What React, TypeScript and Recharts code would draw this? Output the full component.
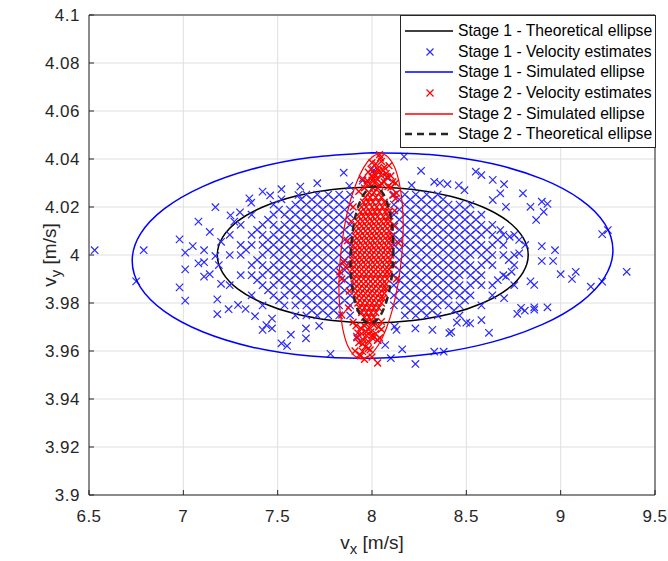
import React from "react";
import { ScatterChart, Scatter, XAxis, YAxis, CartesianGrid, Legend } from "recharts";

type Pt = [number, number];

const xTicks = [6.5, 7, 7.5, 8, 8.5, 9, 9.5];
const yTicks = [3.9, 3.92, 3.94, 3.96, 3.98, 4, 4.02, 4.04, 4.06, 4.08, 4.1];

// ellipse outlines
const stage1Theoretical: Pt[] = [
  [8.004, 4.0283], [7.791, 4.0273], [7.592, 4.0245], [7.421, 4.02], [7.29, 4.0142], [7.208, 4.0073],
  [7.18, 4.0], [7.208, 3.9927], [7.29, 3.9858], [7.421, 3.98], [7.592, 3.9755], [7.791, 3.9727],
  [8.004, 3.9717], [8.217, 3.9727], [8.416, 3.9755], [8.587, 3.98], [8.718, 3.9858], [8.8, 3.9927],
  [8.828, 4.0], [8.8, 4.0073], [8.718, 4.0142], [8.587, 4.02], [8.416, 4.0245], [8.217, 4.0273], [8.004, 4.0283],
];

const stage1Simulated: Pt[] = [
  [8.003, 4.0426], [7.673, 4.0406], [7.366, 4.0358], [7.102, 4.0285], [6.9, 4.0193], [6.772, 4.0087],
  [6.729, 3.9976], [6.772, 3.9866], [6.9, 3.9765], [7.102, 3.968], [7.366, 3.9616], [7.673, 3.9579],
  [8.003, 3.957], [8.333, 3.959], [8.64, 3.9638], [8.904, 3.9711], [9.106, 3.9803], [9.234, 3.9909],
  [9.277, 4.002], [9.234, 4.013], [9.106, 4.0231], [8.904, 4.0316], [8.64, 4.038], [8.333, 4.0417], [8.003, 4.0426],
];

const stage2Simulated: Pt[] = [
  [8.158, 3.9995], [8.165, 4.0106], [8.161, 4.0209], [8.145, 4.0298], [8.12, 4.0366], [8.085, 4.0408],
  [8.045, 4.0423], [8.001, 4.0408], [7.957, 4.0366], [7.916, 4.0298], [7.879, 4.0209], [7.851, 4.0106],
  [7.833, 3.9995], [7.825, 3.9884], [7.829, 3.9781], [7.845, 3.9692], [7.87, 3.9624], [7.905, 3.9582],
  [7.945, 3.9567], [7.989, 3.9582], [8.033, 3.9624], [8.075, 3.9692], [8.111, 3.9781], [8.139, 3.9884], [8.158, 3.9995],
];

const stage2Theoretical: Pt[] = [
  [8.113, 4.0], [8.112, 4.0074], [8.103, 4.0143], [8.087, 4.0202], [8.065, 4.0247], [8.039, 4.0275],
  [8.01, 4.0285], [7.981, 4.0275], [7.952, 4.0247], [7.927, 4.0202], [7.907, 4.0143], [7.894, 4.0074],
  [7.887, 4.0], [7.888, 3.9926], [7.897, 3.9857], [7.913, 3.9798], [7.935, 3.9753], [7.961, 3.9725],
  [7.99, 3.9715], [8.019, 3.9725], [8.048, 3.9753], [8.073, 3.9798], [8.093, 3.9857], [8.107, 3.9926], [8.113, 4.0],
];

// stage 1 estimates outside the dense core
const stage1Scattered: Pt[] = [
  [6.53, 4.002], [6.79, 4.002], [6.75, 3.989], [6.98, 4.0065], [7.01, 4.001], [7.05, 4.0037], [7.01, 3.994],
  [6.98, 3.9865], [7.01, 3.981], [7.08, 4.0139], [7.14, 4.0096], [7.17, 4.0199], [7.11, 4.002], [7.08, 3.9965],
  [7.11, 3.997], [7.11, 3.991], [7.14, 3.992], [7.18, 3.9754], [7.24, 3.9774], [7.18, 3.9815], [7.2, 3.988],
  [7.17, 3.9996], [7.2, 4.0055], [7.27, 4.0139], [7.36, 4.0218], [7.42, 4.0264], [7.52, 4.0274], [7.52, 4.0232],
  [7.61, 4.025], [7.71, 4.0299], [7.85, 4.0343], [7.88, 4.0288], [8.01, 4.0354],
  [7.42, 3.9688], [7.44, 3.9708], [7.47, 3.9694], [7.52, 3.9632], [7.55, 3.9621], [7.65, 3.9653], [7.65, 3.9694],
  [7.78, 3.9588],
  [8.17, 4.041], [8.26, 4.0351], [8.36, 4.03], [8.4, 4.0295], [8.46, 4.029], [8.49, 4.027], [8.55, 4.0347],
  [8.58, 4.0333], [8.64, 4.0313], [8.7, 4.0295], [8.68, 4.0257], [8.64, 4.0229], [8.71, 4.0201], [8.8, 4.0257],
  [8.84, 4.0201], [8.87, 4.0146], [8.91, 4.018], [8.9, 4.0222], [8.93, 4.0213], [8.68, 4.0104],
  [8.73, 4.0076], [8.78, 4.0063], [8.78, 4.0007],
  [9.22, 4.0087], [9.25, 4.0104], [8.9, 4.0037], [8.97, 4.002], [8.9, 3.9975], [8.96, 3.9975], [9.0, 3.992],
  [9.08, 3.993], [9.06, 3.99], [9.35, 3.993], [9.16, 3.9868], [9.22, 3.9889], [8.84, 3.989], [8.86, 3.9875],
  [8.71, 3.991], [8.74, 3.993], [8.7, 3.982],
  [8.79, 3.978], [8.81, 3.9768], [8.86, 3.9772], [8.86, 3.9782], [8.93, 3.9782], [8.77, 3.9755],
  [8.42, 3.968], [8.52, 3.9715], [8.58, 3.9729], [8.62, 3.9676], [8.45, 3.9718], [8.38, 3.9597], [8.5, 3.9718],
  [8.41, 3.9674], [8.32, 3.9688], [8.23, 3.9694], [8.33, 3.9597], [8.23, 3.9546], [8.16, 3.9607], [8.1, 3.957],
  [8.07, 3.9625], [8.13, 3.9688],
  [7.62, 4.0285], [7.95, 4.031], [8.08, 4.0322], [8.21, 4.0291], [8.33, 4.0305], [7.72, 3.9705], [7.92, 3.966],
  [8.03, 3.9645], [8.12, 3.9702], [7.57, 3.9668], [7.3, 4.0178], [7.25, 4.0165], [7.33, 3.9775], [7.38, 3.9745],
  [7.29, 3.9792], [7.47, 3.9735], [7.35, 4.0236], [7.46, 4.0248],
];

// stage 1 estimates in the dense core: they sit on a regular grid (row vy, columns vx)
const stage1Grid: [number, number[]][] = [
  [4.0252, [7.652, 7.71, 7.768, 7.826, 7.884, 8.116, 8.174, 8.232, 8.29, 8.348]],
  [4.0231, [7.623, 7.681, 7.739, 7.797, 7.855, 8.145, 8.203, 8.261, 8.319, 8.377]],
  [4.021, [7.478, 7.594, 7.652, 7.71, 7.768, 7.826, 7.884, 8.116, 8.174, 8.232, 8.29, 8.348, 8.406, 8.464, 8.522]],
  [4.0189, [7.507, 7.565, 7.623, 7.681, 7.739, 7.797, 7.855, 8.145, 8.203, 8.261, 8.319, 8.377, 8.435, 8.493]],
  [4.0168, [7.362, 7.478, 7.536, 7.594, 7.652, 7.71, 7.768, 7.826, 7.884, 8.116, 8.174, 8.232, 8.29, 8.348, 8.406, 8.464, 8.522, 8.58]],
  [4.0147, [7.449, 7.565, 7.623, 7.681, 7.739, 7.797, 7.855, 8.145, 8.203, 8.261, 8.319, 8.377, 8.435, 8.493, 8.551]],
  [4.0126, [7.304, 7.42, 7.478, 7.536, 7.594, 7.652, 7.71, 7.768, 7.826, 7.884, 8.116, 8.174, 8.232, 8.29, 8.348, 8.406, 8.464, 8.522, 8.58, 8.638]],
  [4.0105, [7.391, 7.507, 7.565, 7.623, 7.681, 7.739, 7.797, 7.855, 8.145, 8.203, 8.261, 8.319, 8.377, 8.435, 8.493, 8.551, 8.609]],
  [4.0084, [7.246, 7.362, 7.42, 7.478, 7.536, 7.594, 7.652, 7.71, 7.768, 7.826, 7.884, 8.116, 8.174, 8.232, 8.29, 8.348, 8.406, 8.464, 8.522, 8.58, 8.638, 8.696, 8.754]],
  [4.0063, [7.449, 7.507, 7.565, 7.623, 7.681, 7.739, 7.797, 7.855, 8.145, 8.203, 8.261, 8.319, 8.377, 8.435, 8.493, 8.551, 8.667]],
  [4.0042, [7.304, 7.362, 7.42, 7.478, 7.536, 7.594, 7.652, 7.71, 7.768, 7.826, 7.884, 8.116, 8.174, 8.232, 8.29, 8.348, 8.406, 8.464, 8.522, 8.58, 8.638, 8.696, 8.812]],
  [4.0021, [7.333, 7.449, 7.507, 7.565, 7.623, 7.681, 7.739, 7.797, 7.855, 8.145, 8.203, 8.261, 8.319, 8.377, 8.435, 8.493, 8.551, 8.609]],
  [4.0, [7.246, 7.304, 7.42, 7.478, 7.536, 7.594, 7.652, 7.71, 7.768, 7.826, 7.884, 8.116, 8.174, 8.232, 8.29, 8.348, 8.406, 8.464, 8.522, 8.58, 8.638, 8.696, 8.754]],
  [3.9979, [7.391, 7.507, 7.565, 7.623, 7.681, 7.739, 7.797, 7.855, 8.145, 8.203, 8.261, 8.319, 8.377, 8.435, 8.493, 8.609, 8.725]],
  [3.9958, [7.188, 7.362, 7.42, 7.478, 7.536, 7.594, 7.652, 7.71, 7.768, 7.826, 7.884, 8.116, 8.174, 8.232, 8.29, 8.348, 8.406, 8.464, 8.522, 8.58, 8.638, 8.754]],
  [3.9937, [7.449, 7.507, 7.565, 7.623, 7.681, 7.739, 7.797, 7.855, 8.145, 8.203, 8.261, 8.319, 8.377, 8.435, 8.493, 8.551]],
  [3.9916, [7.304, 7.362, 7.42, 7.478, 7.536, 7.594, 7.652, 7.71, 7.768, 7.826, 7.884, 8.116, 8.174, 8.232, 8.29, 8.348, 8.406, 8.464, 8.522, 8.58, 8.696]],
  [3.9895, [7.391, 7.507, 7.565, 7.623, 7.681, 7.739, 7.797, 7.855, 8.145, 8.203, 8.261, 8.319, 8.377, 8.435, 8.551, 8.667]],
  [3.9874, [7.246, 7.42, 7.478, 7.536, 7.594, 7.652, 7.71, 7.768, 7.826, 7.884, 8.116, 8.174, 8.232, 8.29, 8.348, 8.406, 8.464, 8.522, 8.58, 8.638, 8.754]],
  [3.9853, [7.449, 7.565, 7.623, 7.681, 7.739, 7.797, 7.855, 8.145, 8.203, 8.261, 8.319, 8.377, 8.435, 8.493]],
  [3.9832, [7.362, 7.478, 7.536, 7.594, 7.652, 7.71, 7.768, 7.826, 7.884, 8.116, 8.174, 8.232, 8.29, 8.348, 8.406, 8.464, 8.522, 8.638]],
  [3.9811, [7.507, 7.623, 7.681, 7.739, 7.797, 7.855, 8.145, 8.203, 8.261, 8.319, 8.377, 8.493]],
  [3.979, [7.42, 7.536, 7.594, 7.652, 7.71, 7.768, 7.826, 7.884, 8.116, 8.174, 8.232, 8.29, 8.348, 8.406, 8.464, 8.58]],
  [3.9769, [7.681, 7.739, 7.797, 8.203, 8.261, 8.319, 8.435]],
  [3.9748, [7.594, 7.652, 7.71, 7.768, 7.826, 7.884, 8.174, 8.232, 8.29, 8.348, 8.464]],
];

// stage 2 estimates, dense core by rows (row vy, columns vx)
const stage2Rows: [number, number[]][] = [
  [4.028, [8.005, 8.03]],
  [4.026, [7.985, 8.01, 8.04]],
  [4.024, [7.965, 7.99, 8.02, 8.05]],
  [4.022, [7.955, 7.98, 8.005, 8.035, 8.065]],
  [4.02, [7.945, 7.97, 8.0, 8.025, 8.055, 8.08]],
  [4.018, [7.94, 7.965, 7.99, 8.015, 8.04, 8.07, 8.09]],
  [4.016, [7.93, 7.955, 7.98, 8.005, 8.03, 8.06, 8.085]],
  [4.014, [7.925, 7.95, 7.975, 8.0, 8.025, 8.05, 8.075, 8.095]],
  [4.012, [7.92, 7.945, 7.97, 7.995, 8.02, 8.045, 8.07, 8.095]],
  [4.01, [7.915, 7.94, 7.965, 7.99, 8.015, 8.04, 8.065, 8.09]],
  [4.008, [7.91, 7.935, 7.96, 7.985, 8.01, 8.035, 8.06, 8.085, 8.105]],
  [4.006, [7.905, 7.93, 7.955, 7.98, 8.005, 8.03, 8.055, 8.08, 8.1]],
  [4.004, [7.9, 7.925, 7.95, 7.975, 8.0, 8.025, 8.05, 8.075, 8.1]],
  [4.002, [7.895, 7.92, 7.945, 7.97, 7.995, 8.02, 8.045, 8.07, 8.095]],
  [4.0, [7.9, 7.925, 7.95, 7.975, 8.0, 8.025, 8.05, 8.075, 8.1]],
  [3.998, [7.895, 7.92, 7.945, 7.97, 7.995, 8.02, 8.045, 8.07, 8.095]],
  [3.996, [7.89, 7.915, 7.94, 7.965, 7.99, 8.015, 8.04, 8.065, 8.09]],
  [3.994, [7.895, 7.92, 7.945, 7.97, 7.995, 8.02, 8.045, 8.07, 8.09]],
  [3.992, [7.895, 7.92, 7.945, 7.97, 7.995, 8.02, 8.045, 8.07, 8.09]],
  [3.99, [7.905, 7.93, 7.955, 7.98, 8.005, 8.03, 8.055, 8.08]],
  [3.988, [7.905, 7.93, 7.955, 7.98, 8.005, 8.03, 8.055, 8.075]],
  [3.986, [7.91, 7.935, 7.96, 7.985, 8.01, 8.035, 8.06, 8.075]],
  [3.984, [7.915, 7.94, 7.965, 7.99, 8.015, 8.04, 8.065]],
  [3.982, [7.92, 7.945, 7.97, 7.995, 8.02, 8.045, 8.06]],
  [3.98, [7.925, 7.95, 7.975, 8.0, 8.025, 8.05]],
  [3.978, [7.935, 7.96, 7.985, 8.01, 8.035]],
  [3.976, [7.945, 7.97, 7.995, 8.02]],
  [3.974, [7.96, 7.985, 8.01]],
  [3.972, [7.975, 8.0]],
];

// stage 2 estimates around the core
const stage2Scattered: Pt[] = [
  [8.04, 4.0418], [8.0, 4.0385], [8.03, 4.036], [7.98, 4.0345], [8.06, 4.0352], [8.09, 4.0372], [8.02, 4.0332],
  [7.95, 4.0318], [8.08, 4.0326], [8.11, 4.0305], [7.97, 4.0298], [8.05, 4.0298], [8.0, 4.0312], [8.125, 4.0235],
  [8.1, 4.0282], [7.93, 4.0265], [8.13, 4.0258],
  [7.99, 4.0295], [8.015, 4.0302], [8.04, 4.0291], [8.065, 4.0305], [7.975, 4.031], [8.0, 4.0325], [8.025, 4.0318],
  [8.05, 4.0331], [8.075, 4.034], [8.01, 4.034], [8.035, 4.0352], [8.02, 4.038], [8.05, 4.039], [8.065, 4.0365],
  [7.995, 4.0358], [8.045, 4.0405], [8.1, 4.033], [7.96, 4.028], [8.085, 4.0285], [8.11, 4.025], [8.125, 4.03],
  [8.12, 4.012], [8.14, 4.005], [8.11, 3.996], [8.12, 4.0185], [8.13, 3.99],
  [7.87, 4.006], [7.86, 3.995], [7.88, 3.985], [7.875, 3.978], [7.89, 4.014], [7.84, 3.99], [7.9, 4.02],
  [7.83, 3.993], [7.85, 3.997],
  [7.94, 3.9695], [7.97, 3.968], [8.0, 3.9665], [7.92, 3.9655], [7.95, 3.963], [7.98, 3.961], [7.91, 3.96],
  [7.94, 3.958], [8.03, 3.9645], [8.05, 3.969], [7.9, 3.972], [8.0, 3.9575], [8.03, 3.955], [7.96, 3.9565],
  [7.93, 3.9635], [7.84, 3.975],
  [7.96, 3.9705], [7.985, 3.9698], [8.01, 3.9708], [8.035, 3.97], [7.945, 3.9672], [7.97, 3.9665], [7.995, 3.968],
  [8.02, 3.9672], [7.955, 3.9645], [7.98, 3.964], [8.005, 3.9652], [7.965, 3.9618], [7.99, 3.9605], [7.925, 3.9675],
  [8.04, 3.9655], [7.95, 3.9598], [7.915, 3.9705], [8.05, 3.9722], [7.935, 3.9585],
];

const INK = "#262626";
const FONT = "'Liberation Sans', Arial, Helvetica, sans-serif";
const BLUE = "#0000ff";
const BLUE_MARK = "#2a2aff";
const RED = "#ff0000";

const legendRows = [
  { label: "Stage 1 - Theoretical ellipse", kind: "line", color: "#000000" },
  { label: "Stage 1 - Velocity estimates", kind: "cross", color: BLUE_MARK },
  { label: "Stage 1 - Simulated ellipse", kind: "line", color: BLUE },
  { label: "Stage 2 - Velocity estimates", kind: "cross", color: RED },
  { label: "Stage 2 - Simulated ellipse", kind: "line", color: RED },
  { label: "Stage 2 - Theoretical ellipse", kind: "dash", color: INK },
];

const toXY = (pts: Pt[]) => pts.map(([x, y]) => ({ x, y }));
const fromRows = (rows: [number, number[]][]) =>
  rows.flatMap(([y, xs]) => xs.map((x) => ({ x, y })));

const stage1Data = [...toXY(stage1Scattered), ...fromRows(stage1Grid)];
const stage2Data = [...fromRows(stage2Rows), ...toXY(stage2Scattered)];

const cross = (color: string, r: number, w: number) => (props: any) => {
  const { cx, cy } = props;
  if (cx == null || cy == null) return <g />;
  return (
    <path
      d={`M${cx - r},${cy - r}L${cx + r},${cy + r}M${cx - r},${cy + r}L${cx + r},${cy - r}`}
      stroke={color}
      strokeWidth={w}
      fill="none"
    />
  );
};
const noDot = () => <g />;

function LegendBox() {
  return (
    <div
      style={{
        boxSizing: "border-box",
        width: 256,
        border: `1px solid ${INK}`,
        background: "#fff",
        padding: "5px 0 2px 0",
        fontFamily: FONT,
        fontSize: 15.7,
        color: "#000",
      }}
    >
      {legendRows.map((row) => (
        <div key={row.label} style={{ display: "flex", alignItems: "center", height: 20.6 }}>
          <svg width={57} height={20} style={{ flex: "none" }}>
            {row.kind === "cross" ? (
              <path d="M25.5,6.5L32.5,13.5M25.5,13.5L32.5,6.5" stroke={row.color} strokeWidth={1.2} />
            ) : (
              <line
                x1={4}
                x2={52}
                y1={10}
                y2={10}
                stroke={row.color}
                strokeWidth={row.kind === "dash" ? 2.5 : 1.5}
                strokeDasharray={row.kind === "dash" ? "7 5" : undefined}
              />
            )}
          </svg>
          <span style={{ whiteSpace: "nowrap" }}>{row.label}</span>
        </div>
      ))}
    </div>
  );
}

const XLabel = (props: any) => {
  const vb = props.viewBox;
  return (
    <text x={vb.x + vb.width / 2} y={549} textAnchor="middle" fill={INK} fontSize={19} fontFamily={FONT}>
      v<tspan dy={5} fontSize={15}>x</tspan>
      <tspan dy={-5}> [m/s]</tspan>
    </text>
  );
};

const YLabel = (props: any) => {
  const vb = props.viewBox;
  const cy = vb.y + vb.height / 2;
  return (
    <text
      transform={`translate(56,${cy}) rotate(-90)`}
      textAnchor="middle"
      fill={INK}
      fontSize={19}
      fontFamily={FONT}
    >
      v<tspan dy={5} fontSize={15}>y</tspan>
      <tspan dy={-5}> [m/s]</tspan>
    </text>
  );
};

const tickStyle = { fill: INK, fontSize: 17, fontFamily: FONT, letterSpacing: 0.5 };

export default function App() {
  return (
    <div style={{ position: "absolute", left: 0, top: 0, width: 668, height: 561, background: "#fff" }}>
      <ScatterChart width={668} height={561} margin={{ top: 14, right: 12, bottom: 6, left: 9 }}>
        <CartesianGrid stroke="#dfdfdf" />
        <XAxis
          type="number"
          dataKey="x"
          domain={[6.5, 9.5]}
          ticks={xTicks}
          interval={0}
          allowDataOverflow
          height={60}
          stroke={INK}
          tick={tickStyle}
          tickSize={-5}
          tickMargin={20}
          label={<XLabel />}
        />
        <YAxis
          type="number"
          dataKey="y"
          domain={[3.9, 4.1]}
          ticks={yTicks}
          interval={0}
          allowDataOverflow
          width={80}
          stroke={INK}
          tick={tickStyle}
          tickSize={-5}
          tickMargin={14}
          label={<YLabel />}
        />
        <XAxis
          xAxisId="t"
          orientation="top"
          type="number"
          dataKey="x"
          domain={[6.5, 9.5]}
          ticks={xTicks}
          interval={0}
          height={1}
          stroke={INK}
          tick={false}
          tickSize={-5}
        />
        <YAxis
          yAxisId="r"
          orientation="right"
          type="number"
          dataKey="y"
          domain={[3.9, 4.1]}
          ticks={yTicks}
          interval={0}
          width={1}
          stroke={INK}
          tick={false}
          tickSize={-5}
        />
        <Scatter
          data={toXY(stage1Theoretical)}
          shape={noDot}
          line={{ stroke: "#000", strokeWidth: 1.5 }}
          lineJointType="natural"
          isAnimationActive={false}
          legendType="none"
        />
        <Scatter data={stage1Data} shape={cross(BLUE_MARK, 3.7, 1.2)} isAnimationActive={false} legendType="none" />
        <Scatter
          data={toXY(stage1Simulated)}
          shape={noDot}
          line={{ stroke: BLUE, strokeWidth: 1.5 }}
          lineJointType="natural"
          isAnimationActive={false}
          legendType="none"
        />
        <Scatter data={stage2Data} shape={cross(RED, 3.4, 1.4)} isAnimationActive={false} legendType="none" />
        <Scatter
          data={toXY(stage2Simulated)}
          shape={noDot}
          line={{ stroke: RED, strokeWidth: 1.2 }}
          lineJointType="natural"
          isAnimationActive={false}
          legendType="none"
        />
        <Scatter
          data={toXY(stage2Theoretical)}
          shape={noDot}
          line={{ stroke: INK, strokeWidth: 2.5, strokeDasharray: "7 5" }}
          lineJointType="natural"
          isAnimationActive={false}
          legendType="none"
        />
        <Legend
          content={<LegendBox />}
          layout="vertical"
          verticalAlign="middle"
          align="center"
          wrapperStyle={{ top: 15, left: 400, width: 256 }}
        />
      </ScatterChart>
    </div>
  );
}
